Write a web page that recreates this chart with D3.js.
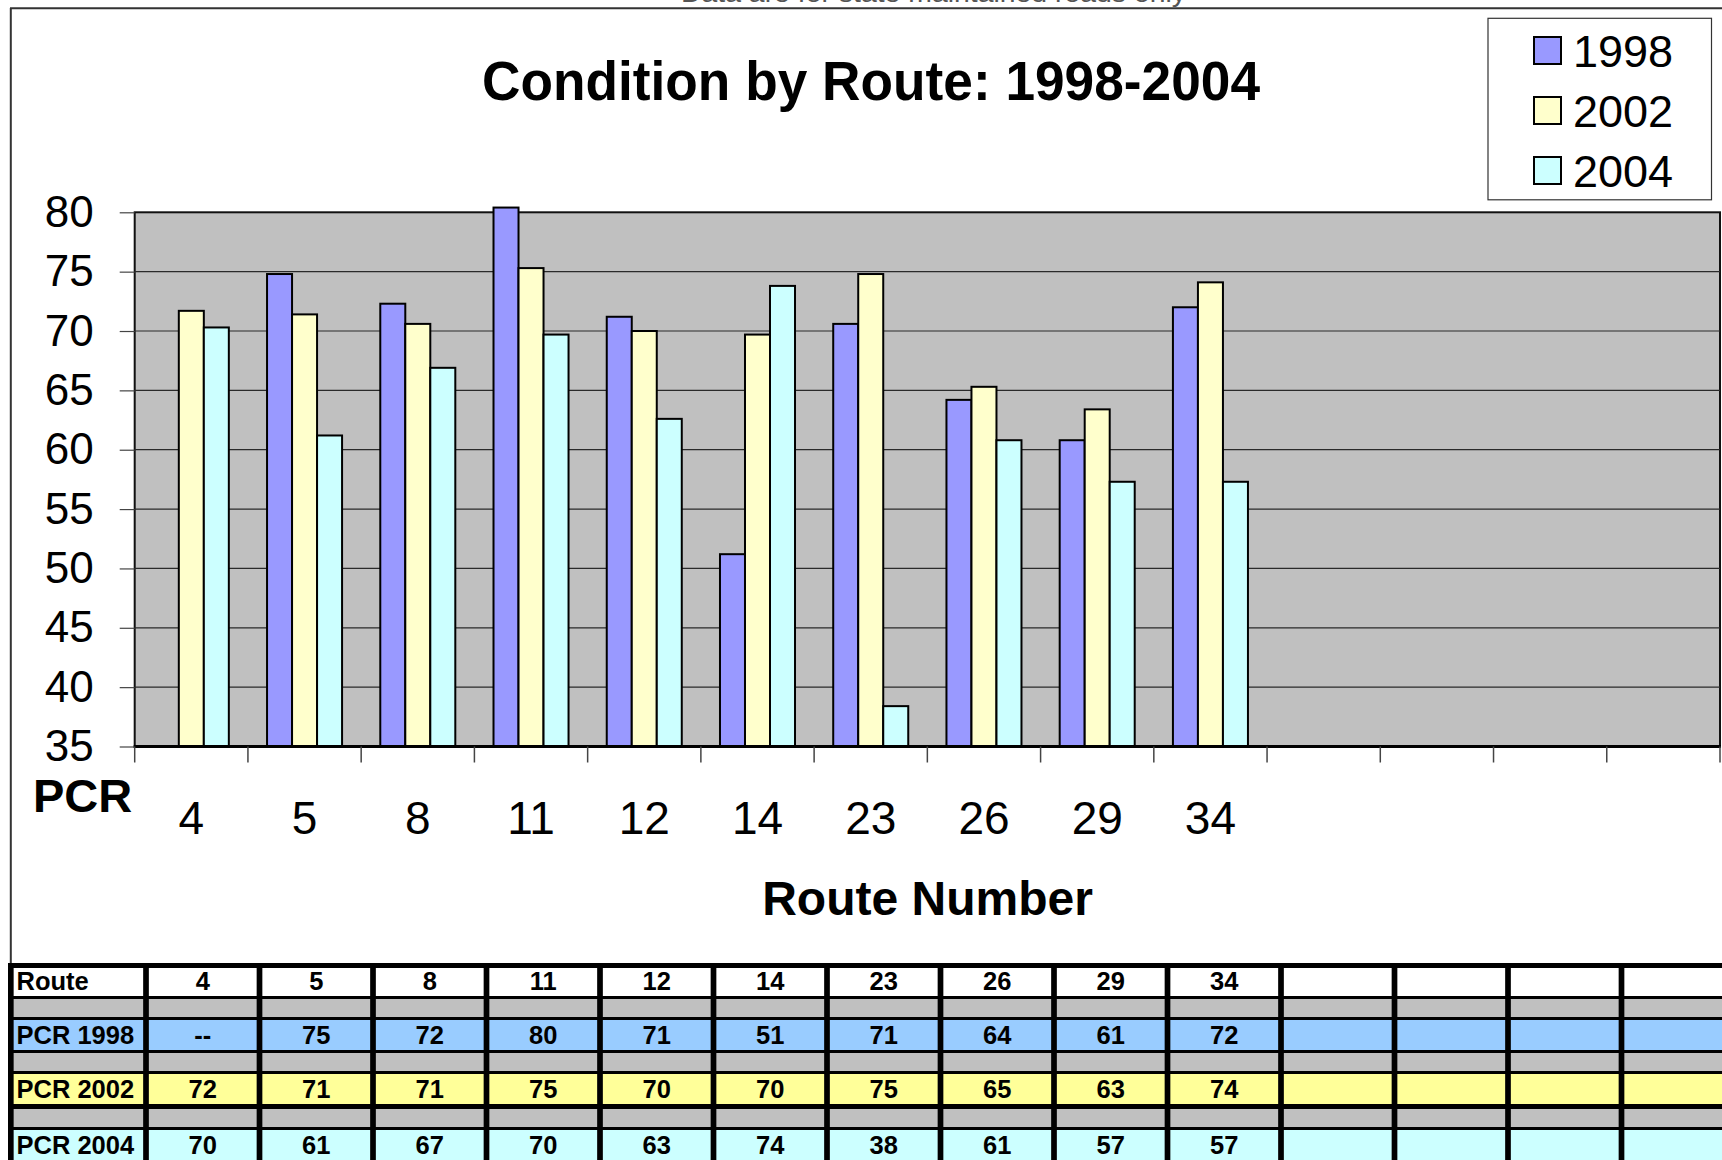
<!DOCTYPE html>
<html><head><meta charset="utf-8">
<script src="https://cdn.jsdelivr.net/npm/d3@7"></script>
<style>
body{margin:0;background:#fff}
svg{display:block}
text{font-family:"Liberation Sans",Arial,sans-serif}
</style>
</head><body>
<svg id="c" width="1722" height="1160"></svg>
<script>
// ---------- data ----------
const routes = ["4","5","8","11","12","14","23","26","29","34"];
const blankSlots = ["", " ", "  ", "   "];
const seriesNames = ["1998","2002","2004"];
const pcr1998 = [null,74.8,72.3,80.4,71.2,51.2,70.6,64.2,60.8,72.0];
const pcr2002 = [71.7,71.4,70.6,75.3,70.0,69.7,74.8,65.3,63.4,74.1];
const pcr2004 = [70.3,61.2,66.9,69.7,62.6,73.8,38.4,60.8,57.3,57.3];
const yTicks = [35,40,45,50,55,60,65,70,75,80];
const tableRowLabels = ["Route","PCR 1998","PCR 2002","PCR 2004"];
const table1998 = ["--","75","72","80","71","51","71","64","61","72"];
const table2002 = ["72","71","71","75","70","70","75","65","63","74"];
const table2004 = ["70","61","67","70","63","74","38","61","57","57"];
const seriesColors = ["#9999FF","#FFFFCC","#CCFFFF"];

const svg = d3.select("#c");
const FONT = '"Liberation Sans",Arial,sans-serif';

// ---------- cut-off header text & frame ----------
svg.append("text").attr("x",681).attr("y",1.5)
  .attr("font-family",'"Liberation Serif","Times New Roman",serif')
  .attr("font-size",26).attr("fill","#555")
  .attr("textLength",505).attr("lengthAdjust","spacingAndGlyphs")
  .text("Data are for state maintained roads only");
svg.append("line").attr("x1",10).attr("x2",1722).attr("y1",8.3).attr("y2",8.3)
  .attr("stroke","#333").attr("stroke-width",2);
svg.append("line").attr("x1",10.8).attr("x2",10.8).attr("y1",8).attr("y2",964)
  .attr("stroke","#333").attr("stroke-width",2);

// ---------- scales ----------
const plotL = 134.7, plotR = 1720, plotT = 212.3, plotB = 746.5;
const cats = routes.concat(blankSlots);
const x0 = d3.scaleBand().domain(cats).range([plotL, plotR]).padding(0);
const x1 = d3.scaleBand().domain(seriesNames).range([0, x0.bandwidth()]).paddingInner(0).paddingOuter(0.764);
const y = d3.scaleLinear().domain([35,80]).range([plotB, plotT]);

// ---------- title ----------
svg.append("text").attr("x",871).attr("y",100).attr("text-anchor","middle")
  .attr("font-size",56).attr("font-weight","bold")
  .attr("textLength",778).attr("lengthAdjust","spacingAndGlyphs")
  .text("Condition by Route: 1998-2004");

// ---------- plot area ----------
svg.append("rect").attr("x",plotL).attr("y",plotT)
  .attr("width",plotR-plotL).attr("height",plotB-plotT)
  .attr("fill","#C0C0C0").attr("stroke","#111").attr("stroke-width",2);

// gridlines
svg.append("g").selectAll("line").data(yTicks.filter(d=>d>35 && d<80)).join("line")
  .attr("x1",plotL).attr("x2",plotR).attr("y1",d=>y(d)).attr("y2",d=>y(d))
  .attr("stroke","#2a2a2a").attr("stroke-width",1.2);

// y axis
const yAxis = svg.append("g").attr("transform",`translate(${plotL},0)`)
  .call(d3.axisLeft(y).tickValues(yTicks).tickSize(15).tickPadding(26));
yAxis.select(".domain").remove();
yAxis.selectAll(".tick line").attr("stroke","#444").attr("stroke-width",1.2);
yAxis.selectAll(".tick text").attr("font-size",44).attr("font-family",FONT).attr("fill","#000");

// bars
const seriesData = [pcr1998, pcr2002, pcr2004];
const barG = svg.append("g");
seriesNames.forEach((s,si)=>{
  barG.append("g").selectAll("rect")
    .data(routes.map((r,i)=>({r, v: seriesData[si][i]})).filter(d=>d.v!=null))
    .join("rect")
    .attr("x",d=>x0(d.r)+x1(s))
    .attr("y",d=>y(d.v))
    .attr("width",x1.bandwidth())
    .attr("height",d=>y(35)-y(d.v))
    .attr("fill",seriesColors[si])
    .attr("stroke","#000").attr("stroke-width",2);
});

// x axis line and boundary ticks
svg.append("line").attr("x1",plotL-1).attr("x2",plotR+1).attr("y1",plotB).attr("y2",plotB)
  .attr("stroke","#000").attr("stroke-width",3);
const bounds = cats.map(c=>x0(c)).concat([plotR]);
svg.append("g").selectAll("line").data(bounds).join("line")
  .attr("x1",d=>d).attr("x2",d=>d).attr("y1",plotB).attr("y2",plotB+16)
  .attr("stroke","#444").attr("stroke-width",1.5);

// x labels
const xAxis = svg.append("g").attr("transform",`translate(0,${plotB})`)
  .call(d3.axisBottom(x0).tickSize(0).tickPadding(0));
xAxis.select(".domain").remove();
xAxis.selectAll(".tick text").attr("dy",null).attr("y",87)
  .attr("font-size",46).attr("font-family",FONT).attr("fill","#000");

svg.append("text").attr("x",33).attr("y",812).attr("font-size",47).attr("font-weight","bold").text("PCR");
svg.append("text").attr("x",927.5).attr("y",915).attr("text-anchor","middle")
  .attr("font-size",48).attr("font-weight","bold").text("Route Number");

// ---------- legend ----------
const lg = svg.append("g");
lg.append("rect").attr("x",1488).attr("y",18.3).attr("width",223.5).attr("height",181.5)
  .attr("fill","#fff").attr("stroke","#333").attr("stroke-width",1.2);
const legY = [50.5,110.5,170.5];
seriesNames.forEach((s,i)=>{
  lg.append("rect").attr("x",1534).attr("y",legY[i]-13.5).attr("width",27).attr("height",27)
    .attr("fill",seriesColors[i]).attr("stroke","#000").attr("stroke-width",2);
  lg.append("text").attr("x",1573).attr("y",legY[i]+16.5).attr("font-size",45).text(s);
});

// ---------- table ----------
const tg = svg.append("g");
tg.append("rect").attr("x",8).attr("y",963).attr("width",1714).attr("height",197).attr("fill","#000");
const rowBands = [
  {y0:968, y1:996, fill:"#FFFFFF", label:tableRowLabels[0], vals:routes, base:990},
  {y0:999, y1:1017, fill:"#C0C0C0"},
  {y0:1020, y1:1050, fill:"#99CCFF", label:tableRowLabels[1], vals:table1998, base:1043.5},
  {y0:1053, y1:1071, fill:"#C0C0C0"},
  {y0:1074, y1:1104, fill:"#FFFF99", label:tableRowLabels[2], vals:table2002, base:1097.5},
  {y0:1109, y1:1127, fill:"#C0C0C0"},
  {y0:1130, y1:1170, fill:"#CCFFFF", label:tableRowLabels[3], vals:table2004, base:1153.5}
];
const colStep = 113.5;
const colEdges = [10.8, 146];
for (let k=1;k<=15;k++) colEdges.push(146+colStep*k);
const half = 2.85;
rowBands.forEach(rb=>{
  for (let c=0;c<colEdges.length-1;c++){
    tg.append("rect").attr("x",colEdges[c]+half).attr("y",rb.y0)
      .attr("width",colEdges[c+1]-colEdges[c]-2*half).attr("height",rb.y1-rb.y0)
      .attr("fill",rb.fill);
  }
  if (rb.label){
    tg.append("text").attr("x",16.5).attr("y",rb.base).attr("font-size",25.5)
      .attr("font-weight","bold").text(rb.label);
    tg.append("g").selectAll("text").data(rb.vals).join("text")
      .attr("x",(d,i)=>(colEdges[i+1]+colEdges[i+2])/2).attr("y",rb.base)
      .attr("text-anchor","middle").attr("font-size",25.5).attr("font-weight","bold")
      .text(d=>d);
  }
});
</script>
</body></html>
